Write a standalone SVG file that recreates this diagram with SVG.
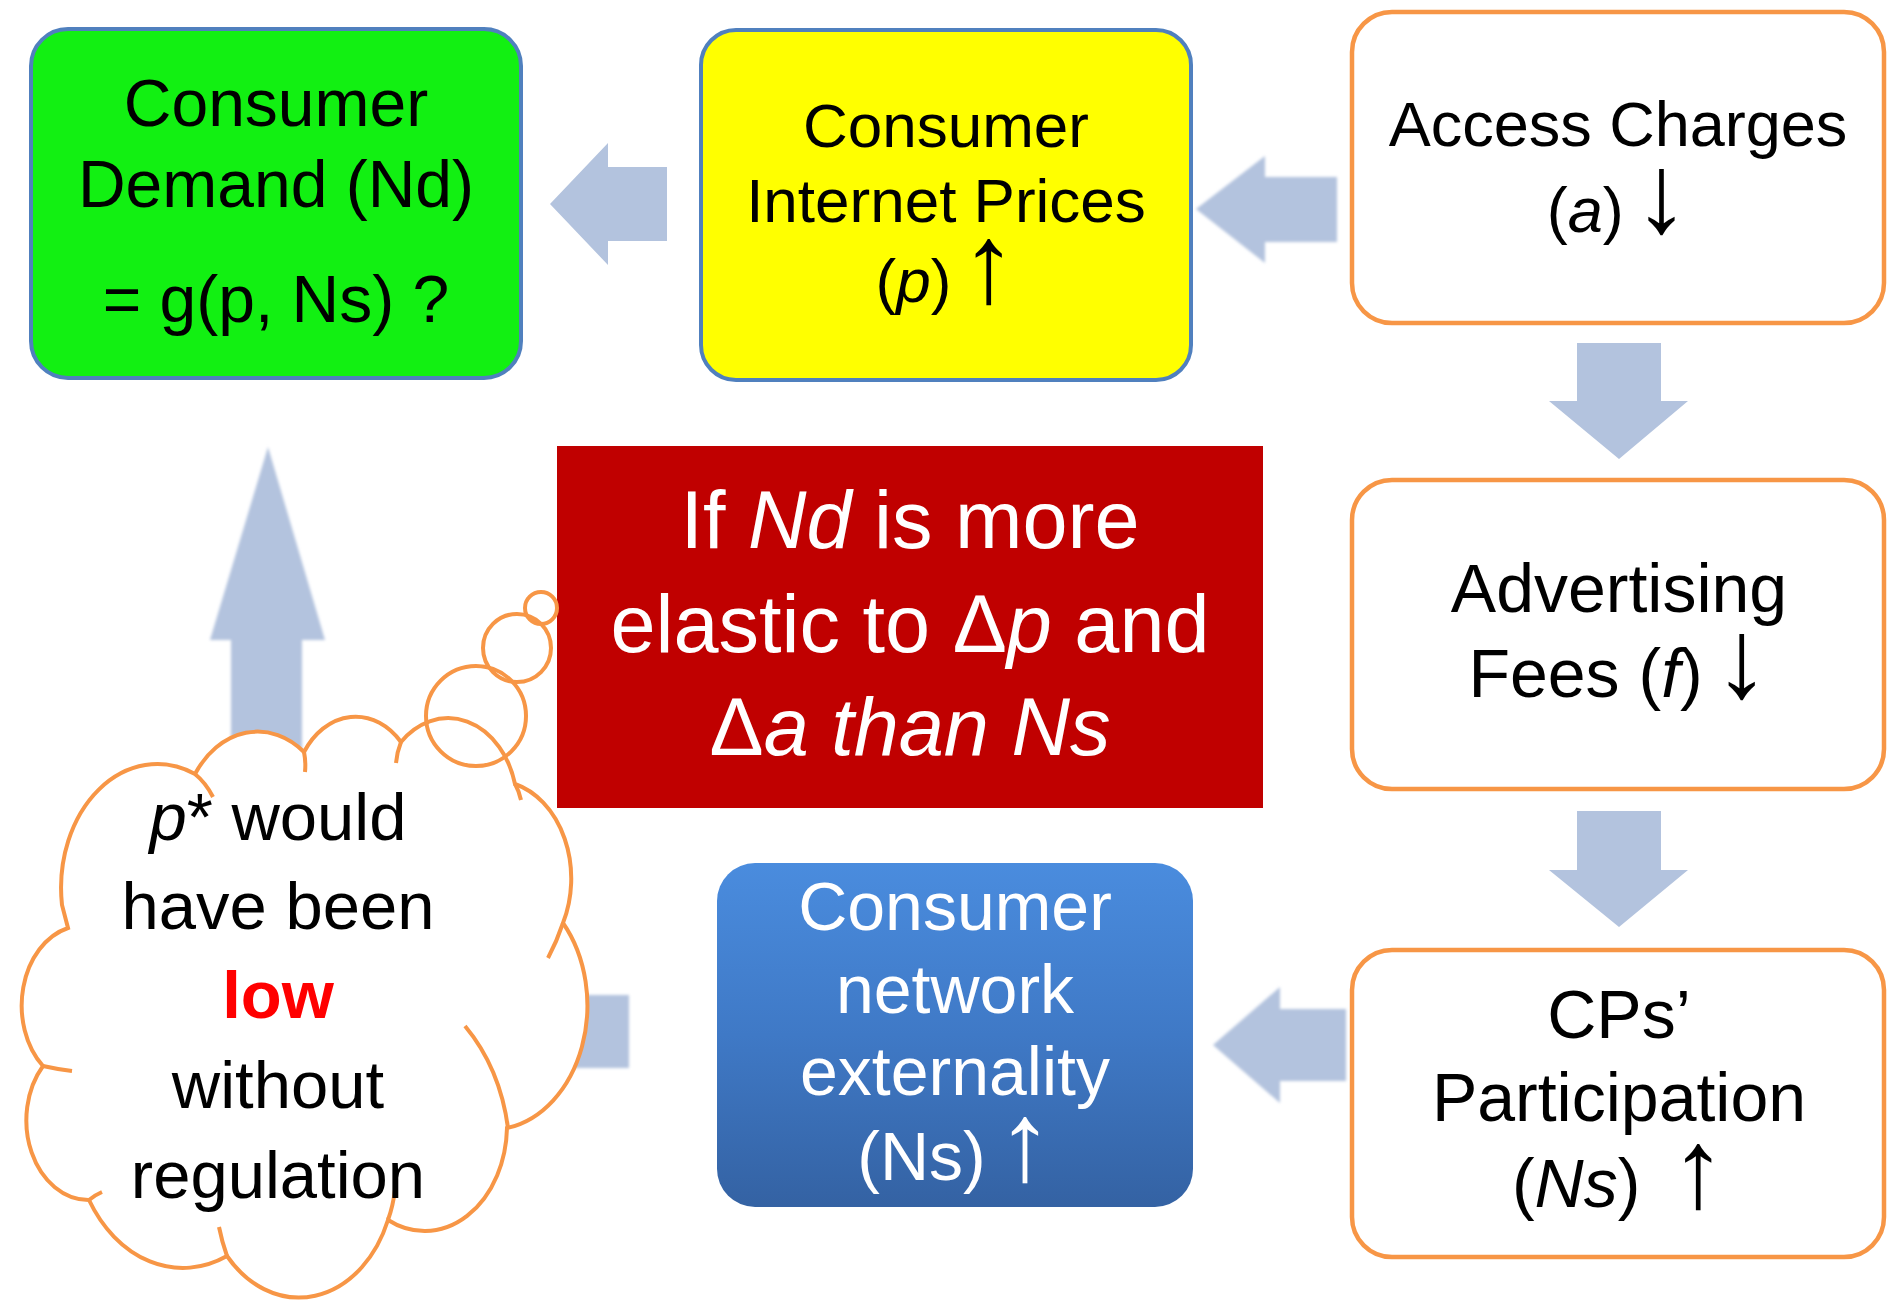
<svg xmlns="http://www.w3.org/2000/svg" width="1893" height="1309" viewBox="0 0 1893 1309">
  <style>
    text { font-family: "Liberation Sans", Arial, sans-serif; text-anchor: middle; }
    .arrow { fill: #B3C3DE; }
    .soft { filter: url(#soft); }
    .edge-blue { stroke: #5080BE; stroke-width: 4; }
    .box-orange { fill: #FFFFFF; stroke: #F79646; stroke-width: 4.5; }
    .dark { fill: #000000; }
    .light { fill: #FFFFFF; }
    .it { font-style: italic; }
    .sym { font-size: 112px; font-weight: 300; }
    .cloud-fill { fill: #FFFFFF; stroke: none; }
    .cloud-line { fill: none; stroke: #F79646; stroke-width: 4; }
  </style>
  <defs>
    <linearGradient id="blueFill" x1="0" y1="0" x2="0" y2="1">
      <stop offset="0" stop-color="#4A8CDE"/>
      <stop offset="0.5" stop-color="#3F79C6"/>
      <stop offset="1" stop-color="#3462A3"/>
    </linearGradient>
    <filter id="soft" x="-10%" y="-10%" width="120%" height="120%">
      <feGaussianBlur stdDeviation="1.4"/>
    </filter>
    <!-- cloud body: eleven elliptical lobes -->
    <path id="cloudBody" d="M62,905 A96.2,123.8 0 0 1 195,774 A76,97.9 0 0 1 304,752 A62.2,80.1 0 0 1 401,742 A69.2,88.8 0 0 1 515,784 A76,98 0 0 1 563,923 A96.5,124.2 0 0 1 507,1128 A82.4,106 0 0 1 388,1220 A96.2,124.1 0 0 1 227,1256 A110,142 0 0 1 89,1200 A62.1,79.7 0 0 1 43,1066 A61.9,80.1 0 0 1 68,928 Z"/>
    <g id="bubbles">
      <circle cx="541" cy="608" r="16"/>
      <circle cx="517" cy="648" r="34"/>
      <circle cx="476" cy="716" r="50"/>
    </g>
  </defs>

  <!-- block arrows between the stages -->
  <g id="connectors">
    <path class="arrow" d="M550,204 L608,143 L608,167 L667,167 L667,241 L608,241 L608,265 Z"/>
    <path class="arrow soft" d="M1196,209 L1265,156 L1265,177 L1337,177 L1337,242 L1265,242 L1265,263 Z"/>
    <path class="arrow" d="M1577,343 L1661,343 L1661,401 L1688,401 L1619,459 L1549,401 L1577,401 Z"/>
    <path class="arrow" d="M1577,811 L1661,811 L1661,870 L1688,870 L1619,927 L1549,870 L1577,870 Z"/>
    <path class="arrow soft" d="M1213,1045 L1280,987 L1280,1009 L1346,1009 L1346,1081 L1280,1081 L1280,1103 Z"/>
    <path class="arrow soft" d="M420,1031 L470,985 L470,995 L629,995 L629,1068 L470,1068 L470,1078 Z"/>
    <path class="arrow soft" d="M268,447 L325,640 L302,640 L302,900 L231,900 L231,640 L210,640 Z"/>
  </g>

  <g id="consumer-demand">
    <rect x="31" y="29" width="490" height="349" rx="37" fill="#12F012" class="edge-blue"/>
    <text class="dark" font-size="66" x="276" y="126">Consumer</text>
    <text class="dark" font-size="66" x="276" y="207">Demand (Nd)</text>
    <text class="dark" font-size="66" x="276" y="322">= g(p, Ns) ?</text>
  </g>

  <g id="consumer-prices">
    <rect x="701" y="30" width="490" height="350" rx="35" fill="#FFFF00" class="edge-blue"/>
    <text class="dark" font-size="62" x="946" y="147">Consumer</text>
    <text class="dark" font-size="62" x="946" y="222">Internet Prices</text>
    <text class="dark" font-size="62" x="946" y="302">(<tspan class="it">p</tspan>) <tspan class="sym" dx="-8">↑</tspan></text>
  </g>

  <g id="access-charges">
    <rect x="1352" y="12" width="532" height="311" rx="40" class="box-orange"/>
    <text class="dark" font-size="63" x="1618" y="146">Access Charges</text>
    <text class="dark" font-size="63" x="1618" y="232">(<tspan class="it">a</tspan>) <tspan class="sym" dx="-8">↓</tspan></text>
  </g>

  <g id="advertising-fees">
    <rect x="1352" y="480" width="532" height="309" rx="40" class="box-orange"/>
    <text class="dark" font-size="68" x="1619" y="612">Advertising</text>
    <text class="dark" font-size="68" x="1619" y="697">Fees (<tspan class="it">f</tspan>) <tspan class="sym" dx="-8">↓</tspan></text>
  </g>

  <g id="cp-participation">
    <rect x="1352" y="950" width="532" height="307" rx="40" class="box-orange"/>
    <text class="dark" font-size="68" x="1619" y="1038">CPs’</text>
    <text class="dark" font-size="68" x="1619" y="1121">Participation</text>
    <text class="dark" font-size="68" x="1619" y="1207" xml:space="preserve">(<tspan class="it">Ns</tspan>)  <tspan class="sym" dx="-8">↑</tspan></text>
  </g>

  <g id="network-externality">
    <rect x="717" y="863" width="476" height="344" rx="38" fill="url(#blueFill)"/>
    <text class="light" font-size="68" x="955" y="930">Consumer</text>
    <text class="light" font-size="68" x="955" y="1013">network</text>
    <text class="light" font-size="68" x="955" y="1095">externality</text>
    <text class="light" font-size="68" x="955" y="1180">(Ns) <tspan class="sym" dx="-8">↑</tspan></text>
  </g>

  <g id="elasticity-condition">
    <rect x="557" y="446" width="706" height="362" fill="#C00000"/>
    <text class="light" font-size="81" x="910" y="548">If <tspan class="it">Nd</tspan> is more</text>
    <text class="light" font-size="81" x="910" y="652">elastic to Δ<tspan class="it">p</tspan> and</text>
    <text class="light" font-size="81" x="910" y="755">Δ<tspan class="it">a than Ns</tspan></text>
  </g>

  <g id="thought-cloud">
    <use href="#cloudBody" class="cloud-fill"/>
    <use href="#bubbles" class="cloud-fill"/>
    <use href="#cloudBody" class="cloud-line"/>
    <use href="#bubbles" class="cloud-line"/>
    <!-- inner lobe strokes -->
    <path class="cloud-line" d="M195,774 Q206,783 213,797 M304,752 Q306,762 305,772 M396,763 Q397,752 401,742 M515,784 Q519,791 521,800 M563,923 Q557,941 548,958 M465,1026 Q500,1068 508,1128 M395,1190 Q393,1206 388,1220 M227,1256 Q222,1242 219,1227 M89,1200 Q95,1195 102,1192 M43,1066 Q56,1069 72,1071"/>
    <text class="dark" font-size="67" x="278" y="840"><tspan class="it">p</tspan>* would</text>
    <text class="dark" font-size="67" x="278" y="929">have been</text>
    <text font-size="67" x="278" y="1018" fill="#FF0000" font-weight="bold">low</text>
    <text class="dark" font-size="67" x="278" y="1108">without</text>
    <text class="dark" font-size="67" x="278" y="1198">regulation</text>
  </g>
</svg>
